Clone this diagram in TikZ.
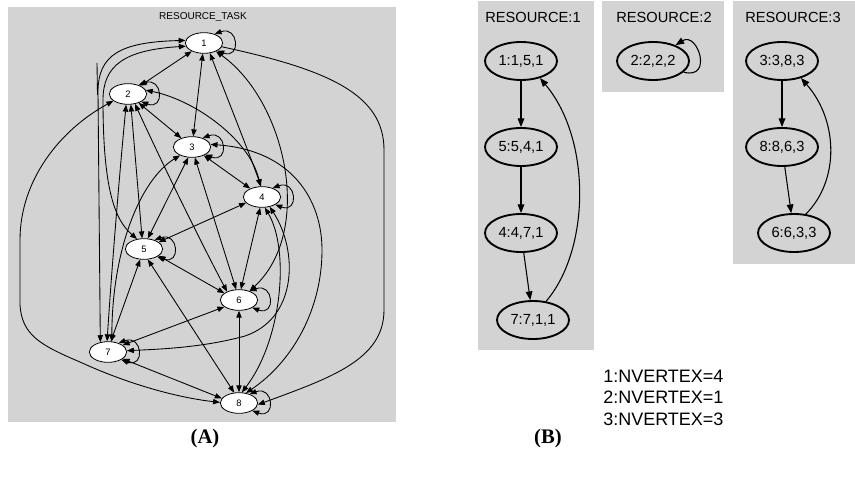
\documentclass[tikz,border=0pt]{standalone}
\usepackage{fontspec}
\setmainfont{Liberation Sans}
\newfontfamily\capfont{Liberation Serif}
\usetikzlibrary{arrows.meta,shapes.geometric}
\definecolor{panelgray}{HTML}{D3D3D3}
\begin{document}
\begin{tikzpicture}[x=0.75pt,y=-0.75pt,
  anode/.style={ellipse,draw,fill=white,line width=0.6pt,minimum width=28pt,minimum height=15.5pt,inner sep=0pt,font=\fontsize{7}{8}\selectfont},
  bnode/.style={ellipse,draw,line width=1.4pt,minimum width=54pt,minimum height=28.5pt,inner sep=0pt,font=\fontsize{11}{12}\selectfont},
  aedge/.style={line width=0.65pt,<->,>={Triangle[length=5.2pt,width=4pt]}},
  aone/.style={line width=0.65pt,->,>={Triangle[length=5.2pt,width=4pt]}},
  bedge/.style={line width=0.8pt,->,>={Triangle[length=6.5pt,width=5pt]}},
  panel/.style={fill=panelgray,draw=none},
  btitle/.style={font=\fontsize{11}{12}\selectfont},
  legend/.style={font=\fontsize{13.5}{15}\selectfont,anchor=base west,inner sep=0pt},
  caption/.style={font=\capfont\bfseries\fontsize{15.5}{17}\selectfont}
]
\useasboundingbox (0,0) rectangle (855,477);
% ---------------- panel A ----------------
\fill[panel] (8,7) rectangle (396,422);
\node[font=\fontsize{7.5}{8}\selectfont] (atitle) at (203,17) {RESOURCE\_TASK};
\node[anode] (n1) at (204,43) {1};
\node[anode] (n2) at (128,94) {2};
\node[anode] (n3) at (192,147) {3};
\node[anode] (n4) at (262,197) {4};
\node[anode] (n5) at (144,249) {5};
\node[anode] (n6) at (239,300) {6};
\node[anode] (n7) at (108,352) {7};
\node[anode] (n8) at (239,403) {8};
% self loops
\foreach \n in {n1,n2,n3,n4,n5,n6,n7,n8}{
  \draw[aedge] (\n.40) .. controls +(24,-9) and +(24,9) .. (\n.-30);
}
% straight edges
\draw[aedge] (n1) -- (n2);
\draw[aedge] (n1) -- (n3);
\draw[aedge] (n1.-60) .. controls (228,100) and (248,150) .. (n4.95);
\draw[aedge] (n2) -- (n3);
\draw[aedge] (n2.-75) -- (n5.100);
\draw[aedge] (n2.-55) .. controls (170,180) and (205,250) .. (n6.145);
\draw[aedge] (n2.-100) .. controls (118,190) and (111,280) .. (n7.95);
\draw[aedge] (n3) -- (n4);
\draw[aedge] (n3.-110) -- (n5.70);
\draw[aedge] (n3.-75) -- (n6.105);
\draw[aedge] (n3.215) .. controls (140,180) and (112,250) .. (n7.70);
\draw[aedge] (n4.200) -- (n5.25);
\draw[aedge] (n4.-100) -- (n6.80);
\draw[aedge] (n5.-25) -- (n6.155);
\draw[aedge] (n5.-110) -- (n7.75);
\draw[aedge] (n5.-70) -- (n8.115);
\draw[aedge] (n6.205) -- (n7.25);
\draw[aedge] (n6) -- (n8);
\draw[aedge] (n7.-25) -- (n8.165);
% curved edges
\draw[aedge] (n1.-35) .. controls (285,100) and (315,230) .. (n6.40);
\draw[aone] (n1.-12) .. controls (330,70) and (384,95) .. (384,150) -- (384,310)
   .. controls (384,360) and (330,378) .. (n8.-5);
\coordinate (stub) at (97,63);
\draw[line width=0.65pt] (stub) -- (97.5,95);
\draw[aedge] (n1.172) .. controls (120,42) and (98,55) .. (98,92) -- (n7.128);
\draw[aedge] (n1.190) .. controls (125,50) and (103,65) .. (103,100)
   .. controls (103,190) and (115,220) .. (n5.125);
\draw[aedge] (n2.12) .. controls (195,100) and (250,140) .. (n4.98);
\draw[aedge] (n2.205) .. controls (60,130) and (20,180) .. (20,240) -- (20,305)
   .. controls (22,335) and (40,345) .. (80,362) .. controls (130,385) and (180,398) .. (n8.178);
\draw[aedge] (n3.8) .. controls (292,150) and (322,200) .. (322,250)
   .. controls (322,310) and (292,362) .. (n8.55);
\draw[aedge] (n4.-75) .. controls (290,250) and (282,340) .. (n8.75);
\draw[aedge] (n4.-52) .. controls (298,250) and (298,318) .. (245,336)
   .. controls (205,347) and (165,349) .. (n7.4);
% ---------------- panel B ----------------
\fill[panel] (478,1) rectangle (594,350);
\fill[panel] (602,1) rectangle (724,92);
\fill[panel] (733,1) rectangle (855,264);
\node[btitle] (t1) at (533,17) {RESOURCE:1};
\node[btitle] (t2) at (664,17) {RESOURCE:2};
\node[btitle] (t3) at (793,17) {RESOURCE:3};
\node[bnode] (r1) at (521,61) {1:1,5,1};
\node[bnode] (r5) at (521,147) {5:5,4,1};
\node[bnode] (r4) at (521,233) {4:4,7,1};
\node[bnode] (r7) at (533,320) {7:7,1,1};
\node[bnode] (r2) at (653,61) {2:2,2,2};
\node[bnode] (r3) at (782,61) {3:3,8,3};
\node[bnode] (r8) at (782,147) {8:8,6,3};
\node[bnode] (r6) at (794,233) {6:6,3,3};
\draw[bedge] (r1) -- (r5);
\draw[bedge] (r5) -- (r4);
\draw[bedge] (r4) -- (r7);
\draw[bedge] (r7.55) .. controls (590,250) and (592,140) .. (r1.-42);
\draw[bedge] (r3) -- (r8);
\draw[bedge] (r8) -- (r6);
\draw[bedge] (r6.58) .. controls (840,180) and (838,120) .. (r3.-42);
\draw[bedge] (r2.-20) .. controls +(30,8) and +(22,-14) .. (r2.35);
\node[legend] (l1) at (603,382) {1:NVERTEX=4};
\node[legend] (l2) at (603,403.5) {2:NVERTEX=1};
\node[legend] (l3) at (603,425) {3:NVERTEX=3};
% captions
\node[caption] (ca) at (205,439) {(A)};
\node[caption] (cb) at (548,439) {(B)};
\end{tikzpicture}
\end{document}
